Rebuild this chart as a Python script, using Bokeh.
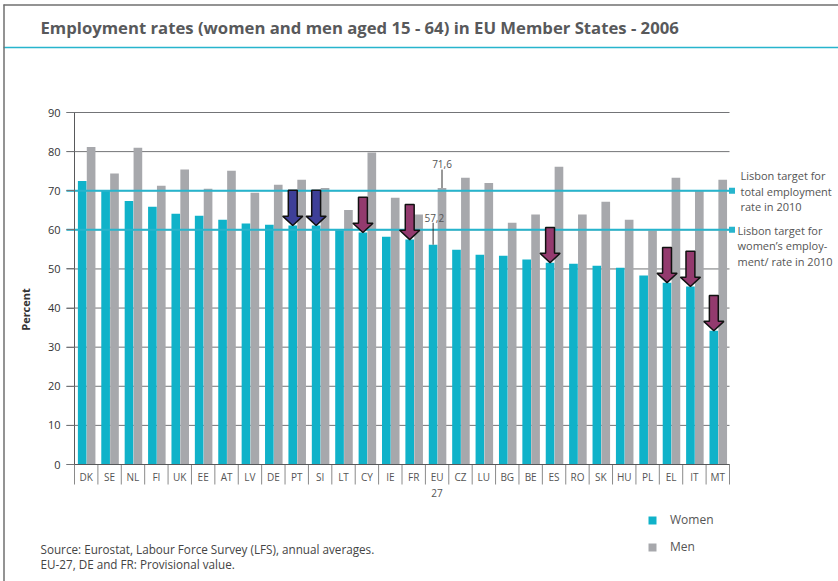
import math
from bokeh.plotting import figure
from bokeh.models import (FixedTicker, Label, Legend, LegendItem, ColumnDataSource, Range1d,
                          LinearAxis)
from bokeh.embed import file_html
from bokeh.resources import INLINE
from bokeh.core.properties import value

# ---------------- data ----------------
countries = ["DK", "SE", "NL", "FI", "UK", "EE", "AT", "LV", "DE", "PT", "SI", "LT", "CY", "IE",
             "FR", "EU-27", "CZ", "LU", "BG", "BE", "ES", "RO", "SK", "HU", "PL", "EL", "IT", "MT"]
tick_labels = ["DK", "SE", "NL", "FI", "UK", "EE", "AT", "LV", "DE", "PT", "SI", "LT", "CY", "IE",
               "FR", "EU\n27", "CZ", "LU", "BG", "BE", "ES", "RO", "SK", "HU", "PL", "EL", "IT", "MT"]
women = [72.5, 70.2, 67.4, 65.9, 64.1, 63.6, 62.6, 61.6, 61.3, 61.1, 61.1, 59.9, 59.3, 58.2,
         57.5, 56.2, 54.9, 53.6, 53.4, 52.4, 51.6, 51.3, 50.8, 50.3, 48.3, 46.5, 45.5, 34.2]
men = [81.2, 74.4, 81.0, 71.3, 75.4, 70.5, 75.1, 69.5, 71.5, 72.8, 70.7, 65.1, 79.8, 68.2,
       63.9, 70.7, 73.3, 72.0, 61.8, 63.9, 76.1, 63.9, 67.2, 62.6, 59.8, 73.3, 70.0, 72.8]
y_ticks = [0, 10, 20, 30, 40, 50, 60, 70, 80, 90]

arrow_countries = ["PT", "SI", "CY", "FR", "ES", "EL", "IT", "MT"]
arrow_groups = ["blue", "blue", "purple", "purple", "purple", "purple", "purple", "purple"]

targets = [70, 60]
target_texts = [["Lisbon target for", "total employment", "rate in 2010"],
                ["Lisbon target for", "women\u2019s employ-", "ment/ rate in 2010"]]

eu_label_texts = ["57,2", "71,6"]

title_text = "Employment rates (women and men aged 15 - 64) in EU Member States - 2006"
source_lines = ["Source: Eurostat, Labour Force Survey (LFS), annual averages.",
                "EU-27, DE and FR: Provisional value."]
y_title = "Percent"

# ---------------- layout / style ----------------
CYAN = "#10b2c9"
GREY = "#a7a8ac"
LINE_CYAN = "#27b5cd"
ARROW_COL = {"blue": "#3e3f98", "purple": "#933a6e"}
TXT = "#555555"
GRID = "#737477"
FONT = "Open Sans"

W, H = 838, 581
# chart area in picture pixels
AX_L, AX_R, AX_T, AX_B = 74, 729, 112, 464
N = len(countries)
sx = (AX_R - AX_L) / N
sy = (AX_B - AX_T) / 90.0
X0 = -0.5 - AX_L / sx
X1 = X0 + W / sx
Y0 = -(H - AX_B) / sy
Y1 = Y0 + H / sy


def px_x(page_x):
    return X0 + page_x / sx


def px_y(page_y):
    return Y0 + (H - page_y) / sy


p = figure(width=W, height=H, output_backend="svg", toolbar_location=None,
           x_range=Range1d(X0, X1), y_range=Range1d(Y0, Y1),
           x_axis_location=None, y_axis_location=None,
           min_border=0, min_border_left=0, min_border_right=0,
           min_border_top=0, min_border_bottom=0)
p.outline_line_color = None
p.background_fill_color = "white"
p.border_fill_color = "white"
p.xgrid.visible = False
p.ygrid.visible = False

idx = list(range(N))
W_OFF, M_OFF, BW = -0.17, 0.21, 0.37
src = ColumnDataSource(dict(
    xw=[i + W_OFF for i in idx], xm=[i + M_OFF for i in idx], women=women, men=men))

# horizontal grid lines (with the 8px tick stub left of the axis)
p.segment(x0=[px_x(AX_L - 8)] * len(y_ticks), x1=[px_x(AX_R)] * len(y_ticks),
          y0=y_ticks, y1=y_ticks, line_color=GRID, line_width=1)

rw = p.vbar(x="xw", top="women", width=BW, source=src, fill_color=CYAN, line_color=None)
rm = p.vbar(x="xm", top="men", width=BW, source=src, fill_color=GREY, line_color=None)

# category boxes below the axis (separators between categories)
bounds_x = [i - 0.5 for i in range(N + 1)]
p.segment(x0=bounds_x, x1=bounds_x, y0=[0] * (N + 1), y1=[px_y(AX_B + 20)] * (N + 1),
          line_color="#8a8a8a", line_width=1)

# axes at fixed locations
xa = LinearAxis(fixed_location=0, bounds=(-0.5, N - 0.5))
xa.ticker = FixedTicker(ticks=idx, minor_ticks=[])
xa.major_label_overrides = {i: lab for i, lab in zip(idx, tick_labels)}
xa.major_tick_out = 0
xa.major_tick_in = 0
xa.minor_tick_out = 0
xa.minor_tick_in = 0
xa.axis_line_color = "#58595b"
xa.major_label_standoff = 5
xa.major_label_text_font = FONT
xa.major_label_text_font_size = "10px"
xa.major_label_text_color = TXT
p.add_layout(xa, "below")

ya = LinearAxis(fixed_location=-0.5, bounds=(0, 90))
ya.ticker = FixedTicker(ticks=y_ticks, minor_ticks=[])
ya.major_tick_out = 8
ya.major_tick_in = 0
ya.minor_tick_out = 0
ya.minor_tick_in = 0
ya.major_tick_line_color = GRID
ya.axis_line_color = "#58595b"
ya.major_label_standoff = 6
ya.major_label_text_font = FONT
ya.major_label_text_font_size = "11px"
ya.major_label_text_color = "#333333"
p.add_layout(ya, "left")

p.add_layout(Label(x=px_x(25), y=px_y(309), text=y_title, angle=math.pi / 2, text_font=FONT,
                   text_font_style="bold", text_font_size="11px", text_color="#333333",
                   text_align="center", text_baseline="middle"))

# Lisbon target lines
p.segment(x0=[px_x(AX_L - 8)] * 2, x1=[px_x(731)] * 2, y0=targets, y1=targets,
          line_color=LINE_CYAN, line_width=2)
p.scatter(x=[px_x(731.5)] * 2, y=targets, marker="square", size=6,
          fill_color=LINE_CYAN, line_color=None)

for k, line in enumerate(target_texts[0]):
    p.add_layout(Label(x=px_x(740), y=px_y(175 + 15.5 * k), text=line, text_font=FONT,
                       text_font_size="11px", text_color=TXT, text_baseline="middle"))
for k, line in enumerate(target_texts[1]):
    p.add_layout(Label(x=px_x(737), y=px_y(229.5 + 15.5 * k), text=line, text_font=FONT,
                       text_font_size="11px", text_color=TXT, text_baseline="middle"))

# block arrows ending at the women's bar top
L, HH, SW, HW = 9.0, 2.4, 0.19, 0.43
axs, ays, acol = [], [], []
for c, g in zip(arrow_countries, arrow_groups):
    i = countries.index(c)
    cx = i + W_OFF
    tip = women[i]
    axs.append([cx - SW, cx + SW, cx + SW, cx + HW, cx, cx - HW, cx - SW])
    ays.append([tip + L, tip + L, tip + HH, tip + HH, tip, tip + HH, tip + HH])
    acol.append(ARROW_COL[g])
p.patches(xs=axs, ys=ays, fill_color=acol, line_color="#111111", line_width=1.5)

# EU-27 value annotations
ie = countries.index("EU-27")
p.segment(x0=[ie + W_OFF, ie + M_OFF], y0=[women[ie], men[ie]],
          x1=[ie + W_OFF, ie + M_OFF], y1=[women[ie] + 5.6, men[ie] + 4.7],
          line_color="#333333", line_width=1)
p.text(x=[ie + W_OFF + 0.05, ie + M_OFF], y=[women[ie] + 6.7, men[ie] + 6.2], text=eu_label_texts,
       text_font=value(FONT), text_font_size="10px", text_color=TXT,
       text_align="center", text_baseline="middle")

# legend
legend = Legend(items=[LegendItem(label="Women", renderers=[rw]),
                       LegendItem(label="Men", renderers=[rm])],
                location=(647, H - 555), padding=0, margin=0, spacing=10,
                glyph_width=10, glyph_height=10, label_height=10, label_standoff=13,
                label_text_font=FONT, label_text_font_size="12px", label_text_color=TXT,
                border_line_color=None, background_fill_alpha=0)
p.add_layout(legend, "center")

# title, header rule, frame lines
p.add_layout(Label(x=px_x(40), y=px_y(27), text=title_text, text_font=FONT,
                   text_font_style="bold", text_font_size="16.7px", text_color="#58595b",
                   text_baseline="middle"))
p.segment(x0=[px_x(3)], x1=[px_x(W)], y0=[px_y(47)], y1=[px_y(47)],
          line_color=LINE_CYAN, line_width=1.5)
p.segment(x0=[px_x(3), px_x(3.5)], x1=[px_x(W), px_x(3.5)],
          y0=[px_y(4.5), px_y(4)], y1=[px_y(4.5), px_y(H)],
          line_color="#6f6f6f", line_width=1.5)

# source notes
for k, line in enumerate(source_lines):
    p.add_layout(Label(x=px_x(40), y=px_y(548 + 15 * k), text=line, text_font=FONT,
                       text_font_size="11.7px", text_color="#444444", text_baseline="middle"))

open("out.html", "w").write(file_html(p, INLINE))
